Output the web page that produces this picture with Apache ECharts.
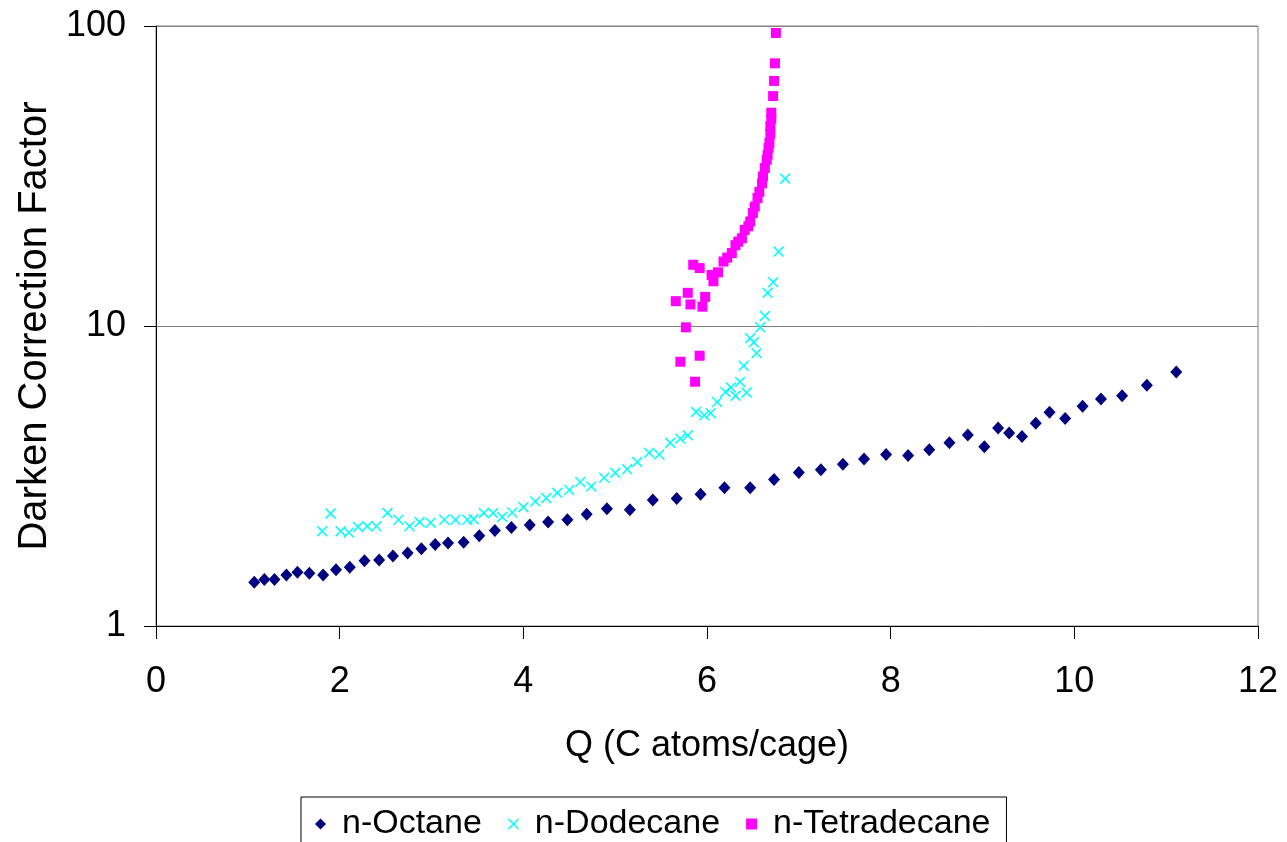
<!DOCTYPE html>
<html>
<head>
<meta charset="utf-8">
<title>Darken Correction Factor vs Q</title>
<script src="https://cdn.jsdelivr.net/npm/echarts@6/dist/echarts.min.js"></script>
<style>
  html, body { margin: 0; padding: 0; background: #ffffff; }
  #chart { width: 1287px; height: 842px; }
</style>
</head>
<body>
<div id="chart"></div>
<script>
// Series names
const seriesNames = ['n-Octane', 'n-Dodecane', 'n-Tetradecane'];

// [Q (C atoms/cage), Darken correction factor]
const octane = [
  [1.07, 1.40], [1.18, 1.43], [1.29, 1.43], [1.42, 1.48], [1.54, 1.51], [1.67, 1.50],
  [1.82, 1.48], [1.96, 1.54], [2.11, 1.57], [2.27, 1.65], [2.43, 1.66], [2.58, 1.71],
  [2.74, 1.75], [2.89, 1.81], [3.04, 1.87], [3.18, 1.89], [3.35, 1.90], [3.52, 2.00],
  [3.69, 2.08], [3.87, 2.13], [4.07, 2.17], [4.27, 2.22], [4.48, 2.26], [4.69, 2.36],
  [4.91, 2.46], [5.16, 2.44], [5.41, 2.63], [5.67, 2.66], [5.93, 2.75], [6.19, 2.89],
  [6.47, 2.89], [6.73, 3.08], [7.00, 3.25], [7.24, 3.32], [7.48, 3.46], [7.71, 3.60],
  [7.95, 3.73], [8.19, 3.70], [8.42, 3.87], [8.64, 4.08], [8.84, 4.33], [9.02, 3.96],
  [9.17, 4.57], [9.29, 4.40], [9.43, 4.28], [9.58, 4.74], [9.73, 5.16], [9.90, 4.92],
  [10.09, 5.40], [10.29, 5.71], [10.52, 5.85], [10.79, 6.35], [11.11, 7.03]
];

const dodecane = [
  [1.81, 2.07], [1.90, 2.37], [2.01, 2.07], [2.10, 2.05], [2.20, 2.14], [2.30, 2.15],
  [2.40, 2.15], [2.52, 2.38], [2.64, 2.26], [2.76, 2.15], [2.87, 2.22], [2.99, 2.21],
  [3.14, 2.26], [3.26, 2.26], [3.39, 2.26], [3.46, 2.27], [3.57, 2.38], [3.67, 2.38],
  [3.77, 2.31], [3.88, 2.39], [4.00, 2.49], [4.13, 2.60], [4.25, 2.67], [4.37, 2.78],
  [4.50, 2.84], [4.62, 3.02], [4.74, 2.92], [4.88, 3.12], [5.00, 3.24], [5.13, 3.33],
  [5.24, 3.52], [5.37, 3.78], [5.48, 3.73], [5.60, 4.08], [5.71, 4.21], [5.79, 4.32],
  [5.88, 5.17], [5.97, 5.04], [6.04, 5.12], [6.11, 5.58], [6.20, 6.03], [6.26, 6.24],
  [6.31, 5.85], [6.36, 6.51], [6.43, 6.00], [6.40, 7.37], [6.47, 9.10], [6.51, 8.82],
  [6.54, 8.12], [6.58, 9.90], [6.63, 10.8], [6.66, 12.9], [6.72, 14.0], [6.78, 17.7],
  [6.85, 31.0]
];

const tetradecane = [
  [5.87, 6.52], [5.71, 7.60], [5.92, 7.96], [5.77, 9.90], [5.66, 12.1], [5.79, 12.9],
  [5.82, 11.8], [5.95, 11.6], [5.98, 12.5], [5.85, 16.0], [5.92, 15.6], [6.05, 14.8],
  [6.07, 14.1], [6.12, 15.1], [6.18, 16.4], [6.22, 16.9], [6.27, 17.5], [6.31, 18.6],
  [6.34, 19.1], [6.38, 19.6], [6.41, 20.9], [6.45, 21.5], [6.47, 22.3], [6.50, 23.8],
  [6.52, 25.0], [6.55, 26.7], [6.57, 28.0], [6.60, 29.9], [6.61, 31.5], [6.63, 33.6],
  [6.65, 35.8], [6.66, 37.2], [6.67, 39.2], [6.68, 40.8], [6.69, 43.7], [6.69, 46.4],
  [6.70, 49.0], [6.70, 51.4], [6.72, 58.4], [6.73, 65.6], [6.74, 75.1], [6.75, 94.8]
];

// Axis settings
const xTicks = { min: 0, max: 12, interval: 2 };
const yRange = { min: 1, max: 100 };

const FONT = '"Liberation Sans", Arial, sans-serif';
const CROSS = 'path://M0,1L1,0L5,4L9,0L10,1L6,5L10,9L9,10L5,6L1,10L0,9L4,5Z';

const chart = echarts.init(document.getElementById('chart'), null, { renderer: 'canvas' });

chart.setOption({
  backgroundColor: '#ffffff',
  animation: false,
  textStyle: { fontFamily: FONT },
  grid: {
    left: 156, right: 29, top: 26, bottom: 216,
    show: true, borderColor: '#808080', borderWidth: 1, backgroundColor: 'transparent'
  },
  legend: {
    left: 301, top: 797,
    padding: [10, 16, 10, 14],
    itemGap: 26,
    itemWidth: 11, itemHeight: 11,
    borderColor: '#000000', borderWidth: 1,
    textStyle: { fontFamily: FONT, fontSize: 34, color: '#000000', lineHeight: 34, padding: [0, 0, 0, 11] },
    data: seriesNames
  },
  xAxis: {
    type: 'value',
    min: xTicks.min, max: xTicks.max, interval: xTicks.interval,
    name: 'Q (C atoms/cage)',
    nameLocation: 'middle', nameGap: 102,
    nameTextStyle: { fontFamily: FONT, fontSize: 36, color: '#000000' },
    axisLine: { show: true, onZero: false, lineStyle: { color: '#000000', width: 1 } },
    axisTick: { show: true, inside: false, length: 13, lineStyle: { color: '#000000' } },
    axisLabel: { fontFamily: FONT, fontSize: 36, color: '#000000', margin: 38 },
    splitLine: { show: false }
  },
  yAxis: {
    type: 'log', logBase: 10,
    min: yRange.min, max: yRange.max,
    name: 'Darken Correction Factor',
    nameLocation: 'middle', nameGap: 100,
    nameTextStyle: { fontFamily: FONT, fontSize: 40, color: '#000000' },
    axisLine: { show: true, lineStyle: { color: '#000000', width: 1 } },
    axisTick: { show: true, inside: false, length: 12, lineStyle: { color: '#000000' } },
    axisLabel: { fontFamily: FONT, fontSize: 36, color: '#000000', margin: 30 },
    splitLine: { show: true, lineStyle: { color: '#808080', width: 1 } },
    minorTick: { show: false }
  },
  series: [
    {
      name: seriesNames[0], type: 'scatter', data: octane,
      symbol: 'diamond', symbolSize: [12, 13],
      itemStyle: { color: '#000080', opacity: 1 }
    },
    {
      name: seriesNames[1], type: 'scatter', data: dodecane,
      symbol: CROSS, symbolSize: 11,
      itemStyle: { color: '#00FFFF', opacity: 1 }
    },
    {
      name: seriesNames[2], type: 'scatter', data: tetradecane,
      symbol: 'rect', symbolSize: 10,
      itemStyle: { color: '#FF00FF', opacity: 1 }
    }
  ]
});
</script>
</body>
</html>
